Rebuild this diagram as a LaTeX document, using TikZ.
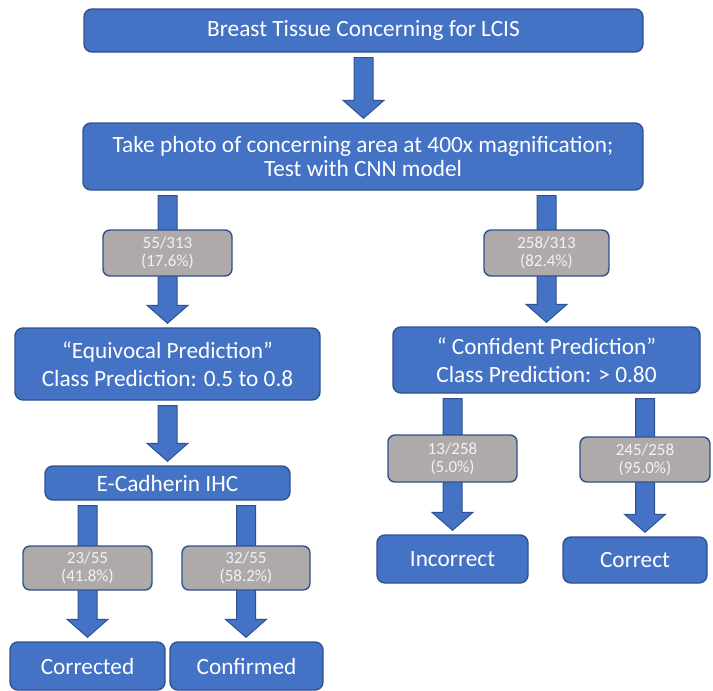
\documentclass[tikz,border=0pt]{standalone}
\usepackage{fontspec}
\setmainfont{Carlito}
\usetikzlibrary{positioning,calc,backgrounds}
\definecolor{boxFill}{HTML}{4472C4}
\definecolor{boxStroke}{HTML}{2F528F}
\definecolor{countFill}{HTML}{AEAAAA}
\definecolor{countText}{HTML}{F2F2F2}

\begin{document}
\begin{tikzpicture}[
  x=1pt, y=-1pt,
  stage/.style ={draw=boxStroke, fill=boxFill, line width=1.4pt, rounded corners=8pt, text=white, align=center, inner sep=2pt, font=\fontsize{23.3}{28}\selectfont},
  count/.style ={draw=boxStroke, fill=countFill, line width=1.4pt, rounded corners=7pt, text=countText, align=center, inner sep=2pt, font=\fontsize{17}{18}\selectfont},
  flow/.style  ={draw=boxStroke, fill=boxFill, line width=1pt, line join=miter},
]
\useasboundingbox (0,0) rectangle (713,691);

% ============ Main stages ============
\node[stage, minimum width=559pt, minimum height=43pt] (tissue) at (363.5,30.5) {Breast Tissue Concerning for LCIS};
\node[stage, minimum width=560pt, minimum height=67pt, font=\fontsize{23.3}{24}\selectfont] (photo) at (363,156.5) {Take photo of concerning area at 400x magnification;\\Test with CNN model};

% ============ Equivocal branch ============
\node[count, minimum width=129pt, minimum height=46pt] (c1) at (167.5,253) {55/313\\(17.6\%)};
\node[stage, minimum width=305pt, minimum height=72pt] (equiv) at (167.5,364) {“Equivocal Prediction”\\Class Prediction: 0.5 to 0.8};
\node[stage, minimum width=245pt, minimum height=34pt] (ihc) at (167.5,483) {E-Cadherin IHC};
\node[count, minimum width=129pt, minimum height=44pt] (c5) at (87.5,568) {23/55\\(41.8\%)};
\node[count, minimum width=128pt, minimum height=44pt] (c6) at (246,568)  {32/55\\(58.2\%)};
\node[stage, minimum width=155pt, minimum height=48pt] (corrected) at (87.5,666) {Corrected};
\node[stage, minimum width=153pt, minimum height=48pt] (confirmed) at (246.5,666) {Confirmed};

% ============ Confident branch ============
\node[count, minimum width=125pt, minimum height=46pt] (c2) at (546.5,253) {258/313\\(82.4\%)};
\node[stage, minimum width=307pt, minimum height=66pt] (conf) at (546.5,360) {“ Confident Prediction”\\Class Prediction: > 0.80};
\node[count, minimum width=129pt, minimum height=47pt] (c3) at (452.5,458.5) {13/258\\(5.0\%)};
\node[count, minimum width=130pt, minimum height=45pt] (c4) at (645,459.5)   {245/258\\(95.0\%)};
\node[stage, minimum width=151pt, minimum height=48pt] (incorrect) at (452.5,559) {Incorrect};
\node[stage, minimum width=144pt, minimum height=46pt] (correct)   at (635,560)   {Correct};

% ============ Block arrows (behind the count boxes) ============
\begin{scope}[on background layer]
\foreach \a/\b/\c in {tissue/photo/tissue, photo/equiv/c1, photo/conf/c2, equiv/ihc/c1,
                      ihc/corrected/c5, ihc/confirmed/c6, conf/incorrect/c3, conf/correct/c4} {
  \draw[flow] let \p1=(\a.south -| \c), \p2=(\b.north -| \c) in
    (\x1-9.5pt,\y1-5pt) -- (\x1+9.5pt,\y1-5pt) -- (\x1+9.5pt,\y2+22pt) -- (\x1+20.5pt,\y2+22pt)
    -- (\x1,\y2+4pt) -- (\x1-20.5pt,\y2+22pt) -- (\x1-9.5pt,\y2+22pt) -- cycle;
}
\end{scope}

\end{tikzpicture}
\end{document}
